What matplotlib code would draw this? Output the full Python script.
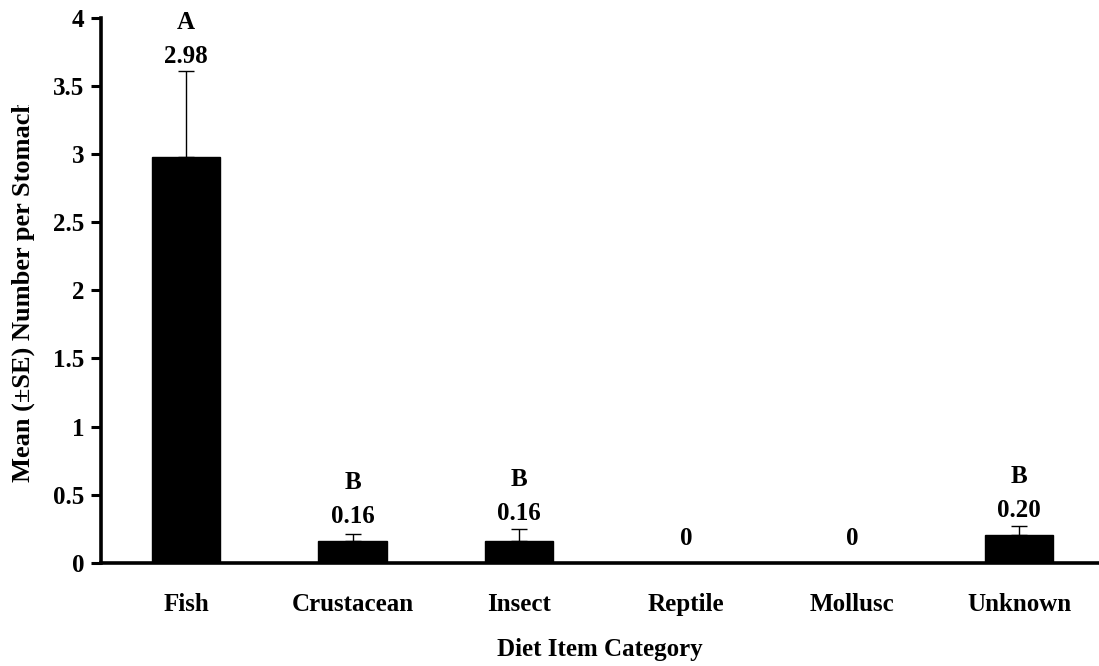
import matplotlib
matplotlib.use("Agg")
import matplotlib.pyplot as plt
import matplotlib.transforms as mtransforms
import numpy as np

categories = ["Fish", "Crustacean", "Insect", "Reptile", "Mollusc", "Unknown"]
means = [2.98, 0.16, 0.16, 0.0, 0.0, 0.20]
se = [0.63, 0.05, 0.09, 0.0, 0.0, 0.07]
value_labels = ["2.98", "0.16", "0.16", "0", "0", "0.20"]
group_letters = ["A", "B", "B", "", "", "B"]
yticks = [0, 0.5, 1, 1.5, 2, 2.5, 3, 3.5, 4]
ytick_labels = ["0", "0.5", "1", "1.5", "2", "2.5", "3", "3.5", "4"]

plt.rcParams['font.family'] = ['Liberation Serif', 'DejaVu Serif']
plt.rcParams['font.weight'] = 'bold'
FS = 18

fig = plt.figure(figsize=(10.99, 6.66), dpi=100)
ax = fig.add_axes([101/1099, 1 - 562.7/666, 1 - 101/1099, (562.7 - 18)/666])

x = np.arange(len(categories))
m_arr = np.array(means)
e_arr = np.array(se)
has_err = e_arr > 0
ax.bar(x, m_arr, width=0.41, color='black', edgecolor='black', zorder=2)
ax.errorbar(x[has_err], m_arr[has_err],
            yerr=[np.zeros(int(has_err.sum())), e_arr[has_err]],
            fmt='none', ecolor='black', elinewidth=1.0, capsize=6, capthick=1.0, zorder=1)

for xi, m, e, vl, gl in zip(x, means, se, value_labels, group_letters):
    yv = max(m + 0.18, m + e + 0.11)
    ax.text(xi, yv, vl, ha='center', va='center', fontsize=FS, fontweight='bold')
    if gl:
        ax.text(xi, yv + 0.25, gl, ha='center', va='center', fontsize=FS, fontweight='bold')

ax.set_xlim(-0.51, 5.48)
ax.set_ylim(0, 4)
ax.set_yticks(yticks)
ax.set_yticklabels(ytick_labels)
ax.set_xticks(x)
ax.set_xticklabels(categories)

for s in ['top', 'right']:
    ax.spines[s].set_visible(False)
for s in ['left', 'bottom']:
    ax.spines[s].set_linewidth(2.6)
    ax.spines[s].set_zorder(3)

ax.tick_params(axis='y', direction='out', length=7, width=2.2, pad=5, labelsize=FS)
ax.tick_params(axis='x', length=0, pad=22, labelsize=FS)
for lab in ax.get_xticklabels() + ax.get_yticklabels():
    lab.set_fontweight('bold')

ax.set_xlabel("Diet Item Category", fontsize=FS, fontweight='bold', labelpad=16)
ax.set_ylabel("Mean (\u00b1SE) Number per Stomach", fontsize=19, fontweight='bold')
ax.yaxis.set_label_coords(-0.066, (562.7 - 290) / (562.7 - 18))

# the reference clips the end of the y-axis title
clip = mtransforms.TransformedBbox(mtransforms.Bbox([[0, 0], [1, 1 - 105/666]]), fig.transFigure)
ax.yaxis.label.set_clip_box(clip)
ax.yaxis.label.set_clip_on(True)

fig.savefig("out.png", dpi=100)
